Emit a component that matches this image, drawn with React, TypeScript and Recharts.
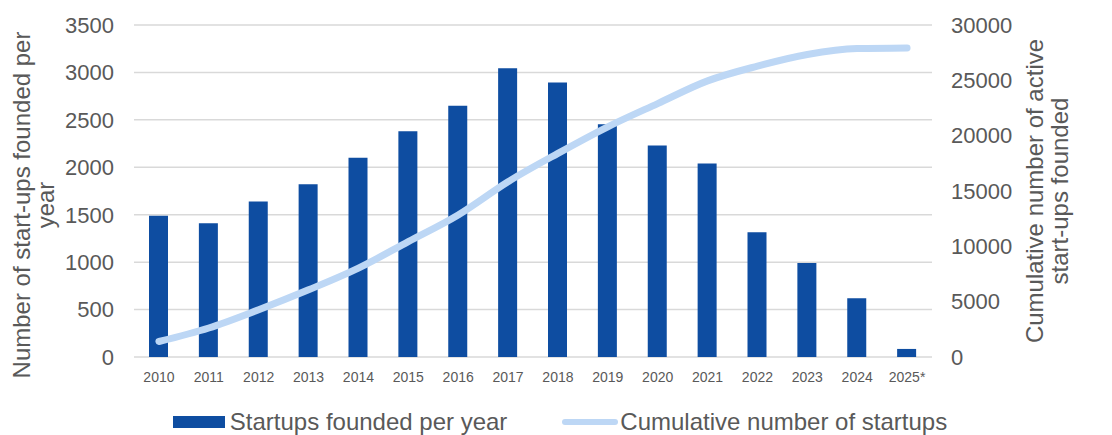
import { ComposedChart, Bar, Line, XAxis, YAxis, CartesianGrid } from "recharts";

const years = ["2010", "2011", "2012", "2013", "2014", "2015", "2016", "2017", "2018", "2019", "2020", "2021", "2022", "2023", "2024", "2025*"];
const foundedPerYear = [1490, 1410, 1640, 1820, 2100, 2380, 2650, 3045, 2895, 2455, 2230, 2040, 1315, 990, 620, 85];
const cumulative = [1400, 2620, 4270, 6070, 8030, 10430, 12840, 15840, 18400, 20800, 22900, 24950, 26280, 27330, 27870, 27930];
const leftTicks = [0, 500, 1000, 1500, 2000, 2500, 3000, 3500];
const rightTicks = [0, 5000, 10000, 15000, 20000, 25000, 30000];

const data = years.map((year, i) => ({
  year,
  founded: foundedPerYear[i],
  cumulative: cumulative[i],
}));

const FONT = "'Liberation Sans', Arial, sans-serif";
const TEXT = "#595959";
const BAR = "#0E4DA1";
const LINE = "#BDD7F5";

// two-line rotated axis title
const axisTitle = (lines: string[], dx: number[], cy: number) => (props: any) => {
  const vb = props.viewBox || {};
  return (
    <g>
      {lines.map((t, i) => {
        const x = vb.x + dx[i];
        return (
          <text
            key={i}
            x={x}
            y={cy}
            transform={`rotate(-90, ${x}, ${cy})`}
            textAnchor="middle"
            dominantBaseline="central"
            fontSize={24}
            fill={TEXT}
            fontFamily={FONT}
          >
            {t}
          </text>
        );
      })}
    </g>
  );
};

export default function App() {
  return (
    <div style={{ position: "relative", width: 1104, height: 427, fontFamily: FONT }}>
      <ComposedChart width={1104} height={427} data={data} margin={{ top: 17, right: 0, bottom: 48, left: 0 }}>
        <CartesianGrid yAxisId="left" vertical={false} stroke="#D9D9D9" strokeWidth={1.5} />
        <XAxis
          dataKey="year"
          interval={0}
          axisLine={false}
          tickLine={false}
          tickSize={0}
          tickMargin={15}
          height={30}
          tick={{ fontSize: 14, fill: TEXT, fontFamily: FONT }}
        />
        <YAxis
          yAxisId="left"
          width={126}
          domain={[0, 3500]}
          ticks={leftTicks}
          interval={0}
          axisLine={false}
          tickLine={false}
          tickSize={0}
          tickMargin={20}
          tick={{ fontSize: 22, fill: TEXT, fontFamily: FONT }}
          label={{ content: axisTitle(["Number of start-ups founded per", "year"], [13, 37], 197) }}
        />
        <YAxis
          yAxisId="right"
          orientation="right"
          width={180}
          domain={[0, 30000]}
          ticks={rightTicks}
          interval={0}
          axisLine={false}
          tickLine={false}
          tickSize={0}
          tickMargin={19}
          tick={{ fontSize: 22, fill: TEXT, fontFamily: FONT }}
          label={{ content: axisTitle(["Cumulative number of active", "start-ups founded"], [102, 127], 183) }}
        />
        <Bar yAxisId="left" dataKey="founded" fill={BAR} barSize={19} isAnimationActive={false} />
        <Line
          yAxisId="right"
          type="monotone"
          dataKey="cumulative"
          stroke={LINE}
          strokeWidth={7}
          strokeLinecap="round"
          dot={false}
          activeDot={false}
          isAnimationActive={false}
        />
      </ComposedChart>
      <div
        style={{
          position: "absolute",
          left: 0,
          top: 400,
          width: 1104,
          display: "flex",
          justifyContent: "center",
          alignItems: "center",
          gap: 55,
          fontSize: 24,
          color: TEXT,
          lineHeight: "28px",
        }}
      >
        <div style={{ display: "flex", alignItems: "center" }}>
          <span style={{ display: "inline-block", width: 52, height: 12, background: BAR, marginRight: 5 }} />
          Startups founded per year
        </div>
        <div style={{ display: "flex", alignItems: "center" }}>
          <span style={{ display: "inline-block", width: 56, height: 6, borderRadius: 3, background: LINE, marginRight: 2 }} />
          Cumulative number of startups
        </div>
      </div>
    </div>
  );
}
